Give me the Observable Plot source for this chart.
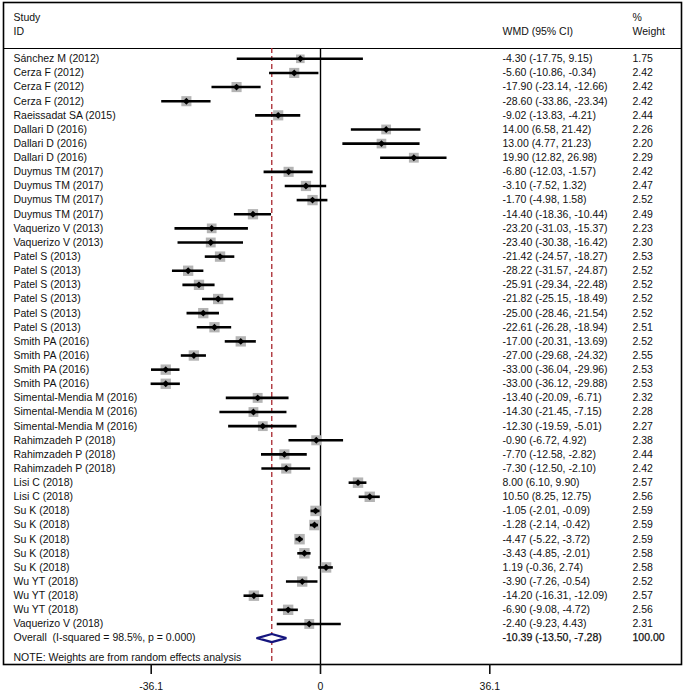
<!DOCTYPE html>
<html>
<head>
<meta charset="utf-8">
<script src="https://cdn.jsdelivr.net/npm/d3@7"></script>
<script src="https://cdn.jsdelivr.net/npm/@observablehq/plot@0.6"></script>
<style>
  html, body { margin: 0; padding: 0; background: #fff; }
</style>
</head>
<body>
<div id="chart"></div>
<script>
const studies = [
  "Sánchez M (2012)", "Cerza F (2012)", "Cerza F (2012)", "Cerza F (2012)",
  "Raeissadat SA (2015)", "Dallari D (2016)", "Dallari D (2016)", "Dallari D (2016)",
  "Duymus TM (2017)", "Duymus TM (2017)", "Duymus TM (2017)", "Duymus TM (2017)",
  "Vaquerizo V (2013)", "Vaquerizo V (2013)",
  "Patel S (2013)", "Patel S (2013)", "Patel S (2013)", "Patel S (2013)", "Patel S (2013)", "Patel S (2013)",
  "Smith PA (2016)", "Smith PA (2016)", "Smith PA (2016)", "Smith PA (2016)",
  "Simental-Mendia M (2016)", "Simental-Mendia M (2016)", "Simental-Mendia M (2016)",
  "Rahimzadeh P (2018)", "Rahimzadeh P (2018)", "Rahimzadeh P (2018)",
  "Lisi C (2018)", "Lisi C (2018)",
  "Su K (2018)", "Su K (2018)", "Su K (2018)", "Su K (2018)", "Su K (2018)",
  "Wu YT (2018)", "Wu YT (2018)", "Wu YT (2018)",
  "Vaquerizo V (2018)"
];
const wmd = [
  -4.30, -5.60, -17.90, -28.60, -9.02, 14.00, 13.00, 19.90,
  -6.80, -3.10, -1.70, -14.40, -23.20, -23.40,
  -21.42, -28.22, -25.91, -21.82, -25.00, -22.61,
  -17.00, -27.00, -33.00, -33.00,
  -13.40, -14.30, -12.30, -0.90, -7.70, -7.30,
  8.00, 10.50, -1.05, -1.28, -4.47, -3.43, 1.19,
  -3.90, -14.20, -6.90, -2.40
];
const ciLow = [
  -17.75, -10.86, -23.14, -33.86, -13.83, 6.58, 4.77, 12.82,
  -12.03, -7.52, -4.98, -18.36, -31.03, -30.38,
  -24.57, -31.57, -29.34, -25.15, -28.46, -26.28,
  -20.31, -29.68, -36.04, -36.12,
  -20.09, -21.45, -19.59, -6.72, -12.58, -12.50,
  6.10, 8.25, -2.01, -2.14, -5.22, -4.85, -0.36,
  -7.26, -16.31, -9.08, -9.23
];
const ciHigh = [
  9.15, -0.34, -12.66, -23.34, -4.21, 21.42, 21.23, 26.98,
  -1.57, 1.32, 1.58, -10.44, -15.37, -16.42,
  -18.27, -24.87, -22.48, -18.49, -21.54, -18.94,
  -13.69, -24.32, -29.96, -29.88,
  -6.71, -7.15, -5.01, 4.92, -2.82, -2.10,
  9.90, 12.75, -0.09, -0.42, -3.72, -2.01, 2.74,
  -0.54, -12.09, -4.72, 4.43
];
const weights = [
  1.75, 2.42, 2.42, 2.42, 2.44, 2.26, 2.20, 2.29,
  2.42, 2.47, 2.52, 2.49, 2.23, 2.30,
  2.53, 2.52, 2.52, 2.52, 2.52, 2.51,
  2.52, 2.55, 2.53, 2.53,
  2.32, 2.28, 2.27, 2.38, 2.44, 2.42,
  2.57, 2.56, 2.59, 2.59, 2.59, 2.58, 2.58,
  2.52, 2.57, 2.56, 2.31
];
const overallLabel = "Overall  (I-squared = 98.5%, p = 0.000)";
const overallWMD = -10.39, overallLow = -13.50, overallHigh = -7.28, overallWeight = "100.00";
const noteText = "NOTE: Weights are from random effects analysis";
const xTicks = [-36.1, 0, 36.1];
const headers = {study: "Study", id: "ID", effect: "WMD (95% CI)", pct: "%", weight: "Weight"};

const f2 = d => d.toFixed(2);
const rows = studies.map((s, i) => ({
  row: i, study: s, wmd: wmd[i], lo: ciLow[i], hi: ciHigh[i], w: weights[i],
  ci: `${f2(wmd[i])} (${f2(ciLow[i])}, ${f2(ciHigh[i])})`, wt: f2(weights[i])
}));
const overallRow = studies.length;
const diamond = [
  {x: overallLow, y: overallRow},
  {x: overallWMD, y: overallRow - 0.29},
  {x: overallHigh, y: overallRow},
  {x: overallWMD, y: overallRow + 0.29},
  {x: overallLow, y: overallRow}
];
const topEdge = -0.73, bottomEdge = 42.87;

const font = "'Liberation Sans', Arial, Helvetica, sans-serif";
const fs = 10.5;
const ink = "#111";

const chart = Plot.plot({
  width: 685,
  height: 692,
  marginTop: 2,
  marginLeft: 3,
  marginRight: 4,
  marginBottom: 28,
  style: {fontFamily: font, fontSize: fs + "px", color: ink, background: "#fff"},
  x: {domain: [-36.1, 36.1], range: [150.7, 489.3]},
  y: {domain: [topEdge, bottomEdge], range: [48, 664], axis: null},
  r: {domain: [0, 2.5], range: [0, 5.8]},
  marks: [
    Plot.frame({stroke: "#000", strokeWidth: 1.6}),
    Plot.ruleY([topEdge], {stroke: "#000", strokeWidth: 1}),
    Plot.ruleX([overallWMD], {y1: topEdge, y2: bottomEdge, stroke: "#a8262e", strokeWidth: 1.3, strokeDasharray: "5,3"}),
    Plot.ruleX([0], {y1: topEdge, y2: bottomEdge, stroke: "#000", strokeWidth: 1.4}),
    Plot.dot(rows, {x: "wmd", y: "row", r: "w", symbol: "square", fill: "#b4b4b4", stroke: "none"}),
    Plot.ruleY(rows, {y: "row", x1: "lo", x2: "hi", stroke: "#000", strokeWidth: 2.6}),
    Plot.dot(rows, {x: "wmd", y: "row", r: 3.1, symbol: "diamond2", fill: "#000", stroke: "none"}),
    Plot.line(diamond, {x: "x", y: "y", stroke: "#15157e", strokeWidth: 2.3, fill: "#fff", strokeLinejoin: "miter"}),
    // study rows
    Plot.text(rows, {y: "row", text: "study", frameAnchor: "left", dx: 10, textAnchor: "start", fontSize: fs, fill: ink}),
    Plot.text(rows, {y: "row", text: "ci", frameAnchor: "left", dx: 499, textAnchor: "start", fontSize: fs, fill: ink}),
    Plot.text(rows, {y: "row", text: "wt", frameAnchor: "left", dx: 629, textAnchor: "start", fontSize: fs, fill: ink}),
    // overall
    Plot.text([overallLabel], {y: overallRow, text: d => d, frameAnchor: "left", dx: 10, textAnchor: "start", fontSize: fs, fill: ink}),
    Plot.text([`${f2(overallWMD)} (${f2(overallLow)}, ${f2(overallHigh)})`], {y: overallRow, text: d => d, frameAnchor: "left", dx: 499, textAnchor: "start", fontSize: fs, fill: ink, stroke: ink, strokeWidth: 0.25}),
    Plot.text([overallWeight], {y: overallRow, text: d => d, frameAnchor: "left", dx: 629, textAnchor: "start", fontSize: fs, fill: ink, stroke: ink, strokeWidth: 0.25}),
    // headers
    Plot.text([headers.study], {text: d => d, frameAnchor: "top-left", dx: 10, dy: 15, textAnchor: "start", lineAnchor: "middle", fontSize: fs, fill: ink}),
    Plot.text([headers.id], {text: d => d, frameAnchor: "top-left", dx: 10, dy: 29, textAnchor: "start", lineAnchor: "middle", fontSize: fs, fill: ink}),
    Plot.text([headers.effect], {text: d => d, frameAnchor: "top-left", dx: 499, dy: 29, textAnchor: "start", lineAnchor: "middle", fontSize: fs, fill: ink}),
    Plot.text([headers.pct], {text: d => d, frameAnchor: "top-left", dx: 629, dy: 15, textAnchor: "start", lineAnchor: "middle", fontSize: fs, fill: ink}),
    Plot.text([headers.weight], {text: d => d, frameAnchor: "top-left", dx: 629, dy: 29, textAnchor: "start", lineAnchor: "middle", fontSize: fs, fill: ink}),
    // note
    Plot.text([noteText], {text: d => d, frameAnchor: "bottom-left", dx: 10, dy: -7, textAnchor: "start", lineAnchor: "middle", fontSize: fs, fill: ink}),
    Plot.axisX({ticks: xTicks, tickFormat: d => d === 0 ? "0" : d.toFixed(1), tickSize: 10, tickPadding: 8, strokeWidth: 1.6, fontSize: fs, label: null, color: ink})
  ]
});
document.getElementById("chart").appendChild(chart);
</script>
</body>
</html>
